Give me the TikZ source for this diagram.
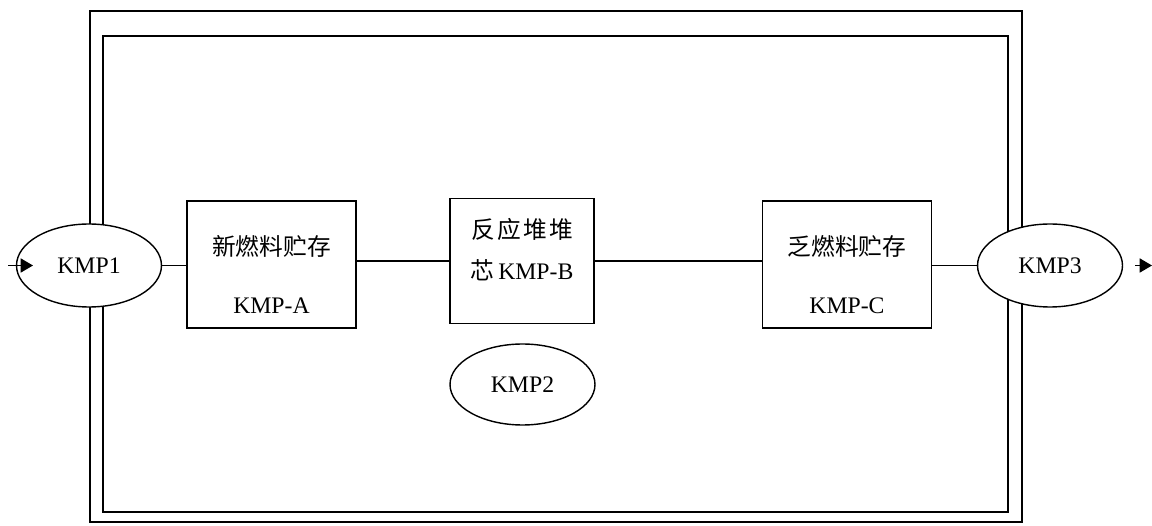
\documentclass[tikz,border=0pt]{standalone}
\usepackage{fontspec}
\setmainfont{Liberation Serif}
\newfontfamily\cjk{Noto Sans CJK SC}
\newfontfamily\cjkwide[LetterSpace=10]{Noto Sans CJK SC}
\usetikzlibrary{arrows.meta, shapes.geometric}

\tikzset{
  kmp/.style={draw, ellipse, fill=white, line width=0.8pt, inner sep=0pt,
    minimum width=2.9cm, minimum height=1.66cm},
  store/.style={draw, rectangle, line width=0.8pt, inner sep=0pt,
    minimum width=3.38cm, minimum height=2.54cm},
  frame/.style={line width=1pt},
  link/.style={line width=0.8pt},
  flow/.style={link, -{Triangle[length=7pt, width=8pt]}},
}

\begin{document}
\begin{tikzpicture}[x=0.02cm, y=-0.02cm, font=\fontsize{13.5}{16}\selectfont]
\useasboundingbox (0,0) rectangle (1152,526);

% Frames
\draw[frame] (90,11) rectangle (1022,522);
\draw[frame] (103,36) rectangle (1008,512);

% Define nodes
\path (271.5,264.5)
node[store] (A) {}
(A) +(0,-18.5) node (A1) {\cjk 新燃料贮存}
(A) +(0,41.5) node (A2) {KMP-A}
(522,261) node[store, minimum width=2.88cm, minimum height=2.5cm] (B) {}
(B) +(0,-31.5) node (B1) {\cjkwide 反应堆堆}
(B) +(0,9) node (B2) {{\cjk 芯}\,KMP-B}
(847,264.5) node[store] (C) {}
(C) +(0,-18.5) node (C1) {\cjk 乏燃料贮存}
(C) +(0,41.5) node (C2) {KMP-C}
(89,265.5) node[kmp] (K1) {KMP1}
(1050,265.5) node[kmp] (K3) {KMP3}
(522.5,384.5) node[kmp, minimum height=1.62cm] (K2) {KMP2}
(8,265.5) coordinate (in)
(1135,265.5) coordinate (out)
;

\draw[link]
(K1) -- (K1 -| A.west)
(B.west -| A.east) -- (B.west)
(B.east) -- (B.east -| C.west)
(K3 -| C.east) -- (K3)
;

\draw[flow] (in) -- +(25,0);
\draw[flow] (out) -- +(17,0);

\end{tikzpicture}
\end{document}
